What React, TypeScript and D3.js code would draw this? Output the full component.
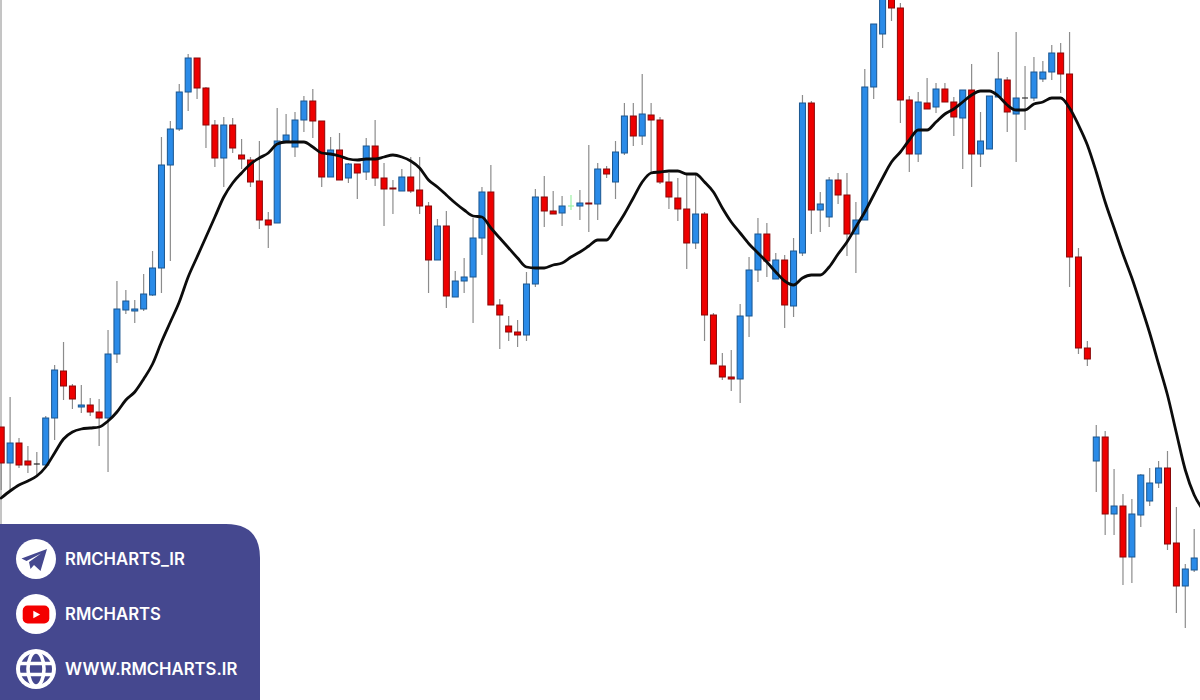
import React from "react";
import * as d3 from "d3";

// Price series, one entry per bar (arbitrary chart units; the reference has no axis)
const opens = [273,237,257,239,236,235,282,329,314,293,295,288,282,346,390,389,391,405,432,535,571,608,642,612,575,542,575,545,540,519,480,477,559,553,580,599,579,523,550,522,536,528,554,522,512,509,523,510,494,440,474,403,419,423,462,508,395,374,368,365,416,503,489,487,494,494,497,496,531,518,547,584,564,585,580,518,502,491,457,486,385,334,323,321,384,430,466,421,440,394,447,597,490,483,520,505,466,480,613,666,703,692,600,546,597,593,611,598,582,610,546,551,603,620,586,602,602,621,628,647,626,443,352,239,263,186,194,143,185,199,217,232,157,114,130];
const closes = [237,257,235,235,236,282,330,314,301,295,288,282,346,391,399,391,406,432,535,571,608,642,612,575,542,575,552,541,518,480,475,559,565,580,599,579,523,550,520,536,527,554,522,511,511,523,509,494,440,474,404,419,423,462,508,395,385,368,365,416,503,489,486,494,494,497,496,531,526,548,584,564,586,580,518,503,491,457,486,385,336,323,321,384,430,466,439,440,395,449,597,490,496,520,505,466,480,613,676,705,692,600,546,598,591,611,598,583,610,546,559,604,621,588,602,602,628,628,647,626,443,352,341,263,186,194,143,186,225,217,232,156,114,131,142];
const highs = [273,303,262,254,248,284,335,358,316,315,302,301,370,419,410,400,426,449,563,579,616,646,642,613,580,583,582,561,543,559,488,592,586,588,604,611,579,563,567,537,536,562,580,537,520,531,543,543,498,481,489,429,442,482,513,535,401,384,380,428,511,524,509,504,505,510,555,537,534,559,597,597,626,597,583,527,522,525,525,488,387,347,350,396,443,482,477,447,445,462,605,599,508,523,527,527,498,631,676,705,703,697,604,608,622,617,617,603,610,636,588,604,648,623,668,634,643,639,655,657,668,452,359,275,269,231,206,201,226,232,239,249,193,136,171];
const lows = [210,210,232,227,223,233,260,300,291,287,284,254,228,337,386,377,389,404,407,439,569,589,601,552,533,513,547,531,513,471,452,477,559,543,568,562,513,523,520,517,501,520,514,474,486,509,507,486,407,440,392,403,407,377,445,395,351,359,353,359,413,473,486,474,490,480,468,480,522,501,545,554,555,527,516,491,479,431,451,359,336,320,309,297,363,418,423,421,372,383,444,466,468,473,496,444,427,480,601,652,679,577,528,538,591,587,598,564,531,513,533,551,603,568,538,570,599,618,620,607,413,346,334,208,165,165,115,117,173,194,212,150,87,72,128];
const smaValues = [202,209,215,219,224,233,247,261,268,271,272,273,279,288,300,308,321,336,358,378,398,423,443,463,483,503,517,527,536,542,547,556,558,558,558,553,547,546,544,541,540,541,541,543,545,543,539,532,520,513,505,497,490,484,483,472,462,452,442,433,432,432,435,437,443,448,454,460,460,472,486,502,518,527,528,529,529,526,526,518,508,492,478,467,456,447,438,428,419,415,422,425,425,433,446,458,473,488,505,522,538,548,560,570,570,578,586,591,598,605,609,609,604,595,590,590,596,598,602,602,592,575,555,528,498,472,446,422,395,367,336,305,267,230,205,190];
// Bars whose open equals close and which therefore have a coloured dash, by bar number
const flatBarIndex = [4, 64, 115];
const flatBarColor = ["#222222", "#9df2a6", "#333333"];
const contacts = ["RMCHARTS_IR", "RMCHARTS", "WWW.RMCHARTS.IR"];

const W = 1200;
const H = 700;
const UP = "#2a8be8";
const DOWN = "#ee0000";
const PANEL = "#45488f";

export default function App() {
  const x = d3.scaleLinear().domain([0, 134]).range([1.2, 1194.2]);
  const y = d3.scaleLinear().domain([700, 0]).range([0, 700]);
  const smaLine = d3
    .line<number>()
    .x((_, i) => x(i))
    .y((d) => y(d))
    .curve(d3.curveMonotoneX);
  const bodyW = 6;

  return (
    <svg
      width={W}
      height={H}
      viewBox={`0 0 ${W} ${H}`}
      style={{ position: "fixed", left: 0, top: 0, background: "#ffffff" }}
    >
      <line x1={1} x2={1} y1={0} y2={524} stroke="#8a8a8a" strokeWidth={1} />
      {opens.map((o, i) => {
        const c = closes[i];
        const flat = flatBarIndex.indexOf(i);
        const wickColor = flat === 1 ? flatBarColor[1] : "#8c8c8c";
        const fill = c >= o ? UP : DOWN;
        const top = y(Math.max(o, c));
        const bottom = y(Math.min(o, c));
        return (
          <g key={i}>
            <line
              x1={x(i)}
              x2={x(i)}
              y1={y(highs[i])}
              y2={y(lows[i])}
              stroke={wickColor}
              strokeWidth={1.2}
            />
            {flat >= 0 ? (
              <line
                x1={x(i) - 3}
                x2={x(i) + 3}
                y1={top}
                y2={top}
                stroke={flatBarColor[flat]}
                strokeWidth={1.2}
              />
            ) : (
              <rect
                x={x(i) - bodyW / 2}
                y={top}
                width={bodyW}
                height={Math.max(bottom - top, 1)}
                fill={fill}
                stroke={c >= o ? "#1a5690" : "#8a0808"}
                strokeWidth={1}
              />
            )}
          </g>
        );
      })}
      <path
        d={smaLine(smaValues) ?? ""}
        fill="none"
        stroke="#0c0c0c"
        strokeWidth={2.8}
        strokeLinejoin="round"
        strokeLinecap="round"
      />

      {/* Contact panel */}
      <path d="M0,524 H226 Q260,524 260,558 V700 H0 Z" fill={PANEL} />
      <circle cx={36} cy={559} r={20} fill="#ffffff" />
      <path
        d="M21.5,558.5 L47,549 L40.5,571 L34,565 L30.5,569 L29,562 L41,553.5 L26.5,561 Z"
        fill={PANEL}
      />
      <circle cx={36} cy={614} r={20} fill="#ffffff" />
      <rect x={22.7} y={605.5} width={26.6} height={18} rx={5} fill="#f40000" />
      <path d="M33.3,610.8 L40.2,614.5 L33.3,618.2 Z" fill="#ffffff" />
      <circle cx={36} cy={669} r={20} fill="#ffffff" />
      <circle cx={36} cy={669} r={16} fill={PANEL} />
      <g fill="none" stroke="#ffffff" strokeWidth={3.6}>
        <ellipse cx={36} cy={669} rx={8} ry={17} />
        <line x1={18} x2={54} y1={663.5} y2={663.5} />
        <line x1={18} x2={54} y1={674.5} y2={674.5} />
      </g>
      {contacts.map((label, i) => (
        <text
          key={label}
          x={65}
          y={565 + i * 55}
          fill="#ffffff"
          fontFamily="Inter, 'Noto Sans', sans-serif"
          fontWeight={600}
          fontSize={16.7}
        >
          {label}
        </text>
      ))}
    </svg>
  );
}
